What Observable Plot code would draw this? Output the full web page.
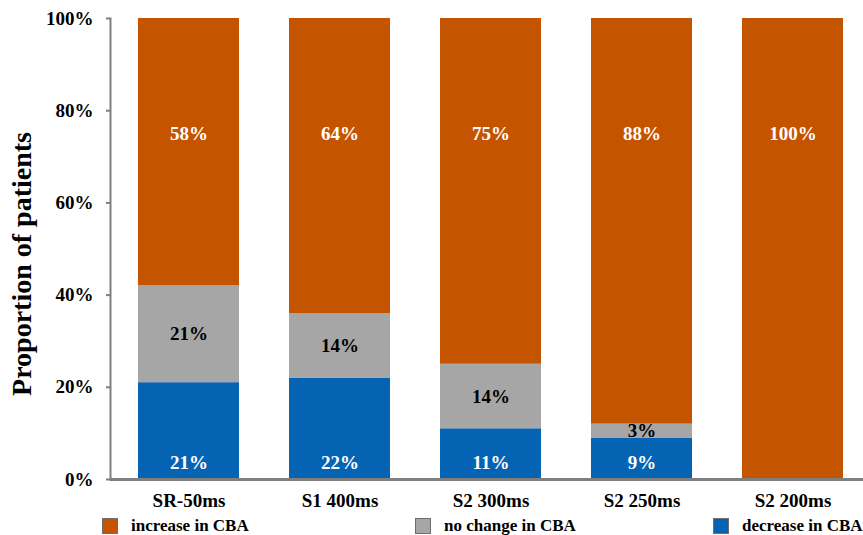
<!DOCTYPE html>
<html>
<head>
<meta charset="utf-8">
<script src="https://cdn.jsdelivr.net/npm/d3@7"></script>
<script src="https://cdn.jsdelivr.net/npm/@observablehq/plot@0.6"></script>
<style>
  body { margin: 0; background: #fff; font-family: "Liberation Serif", "Times New Roman", serif; }
  #wrap { position: relative; width: 863px; height: 535px; overflow: hidden; }
  #legend { position: absolute; top: 516px; left: 0; width: 863px; height: 20px; font-weight: bold; font-size: 17px; }
  .item { position: absolute; top: 0; display: flex; align-items: center; }
  .swatch { width: 14px; height: 14px; border: 1px solid #6e6e6e; margin-right: 13px; }
</style>
</head>
<body>
<div id="wrap">
  <div id="chart"></div>
  <div id="legend"></div>
</div>
<script>
// Pacing protocols and share of patients per CBA response (%)
const categories = ["SR-50ms", "S1 400ms", "S2 300ms", "S2 250ms", "S2 200ms"];
const decrease = [21, 22, 11, 9, 0];
const noChange = [21, 14, 14, 3, 0];
const increase = [58, 64, 75, 88, 100];
const yTicks = [0, 20, 40, 60, 80, 100];

const seriesNames = ["decrease in CBA", "no change in CBA", "increase in CBA"];
const seriesColors = ["#0563B3", "#A6A6A6", "#C55400"];
const legendOrder = ["increase in CBA", "no change in CBA", "decrease in CBA"];
const legendLeft = [102, 415, 713];

// Long-format rows, stacked bottom to top: decrease, no change, increase
const rows = [];
categories.forEach((c, i) => {
  rows.push({cat: c, series: seriesNames[0], value: decrease[i]});
  rows.push({cat: c, series: seriesNames[1], value: noChange[i]});
  rows.push({cat: c, series: seriesNames[2], value: increase[i]});
});

// Label positions: decrease at the base, no change at its middle, increase high in the bar
const decLabels = categories.map((c, i) => ({cat: c, v: decrease[i]})).filter(d => d.v > 0);
const midLabels = categories.map((c, i) => ({cat: c, v: noChange[i], y: decrease[i] + noChange[i] / 2})).filter(d => d.v > 0);
const incLabels = categories.map((c, i) => ({cat: c, v: increase[i]})).filter(d => d.v > 0);
const incLabelLevel = 75;

const font = "Liberation Serif, Times New Roman, serif";
const axisGray = "#7f7f7f";

const chart = Plot.plot({
  width: 863,
  height: 511,
  marginLeft: 110,
  marginRight: 0,
  marginTop: 18,
  marginBottom: 32,
  style: {fontFamily: font, fontWeight: "bold", background: "white", overflow: "visible"},
  x: {domain: categories, range: [112, 869], paddingInner: 0.333, paddingOuter: 0.167, label: null},
  y: {domain: [0, 100], label: null},
  color: {domain: seriesNames, range: seriesColors},
  marks: [
    Plot.barY(rows, Plot.stackY({x: "cat", y: "value", fill: "series", order: seriesNames})),
    Plot.frame({anchor: "left", stroke: axisGray, strokeWidth: 2}),
    Plot.ruleY([0], {stroke: axisGray, strokeWidth: 3}),
    Plot.axisY({ticks: yTicks, tickFormat: d => d + "%", tickSize: 4, tickPadding: 13, fontSize: 19, fontWeight: "bold", stroke: axisGray, strokeWidth: 2, color: "black", label: null}),
    Plot.axisX({tickSize: 0, tickPadding: 14, fontSize: 19, fontWeight: "bold", label: null}),
    Plot.text(["Proportion of patients"], {frameAnchor: "left", textAnchor: "middle", dx: -88, dy: 15, rotate: -90, fontSize: 28, fontWeight: "bold", fill: "black"}),
    Plot.text(incLabels, {x: "cat", y: () => incLabelLevel, text: d => d.v + "%", fill: "white", fontSize: 19, fontWeight: "bold"}),
    Plot.text(midLabels, {x: "cat", y: "y", text: d => d.v + "%", fill: "black", fontSize: 19, fontWeight: "bold"}),
    Plot.text(decLabels, {x: "cat", y: () => 0, dy: -17, text: d => d.v + "%", fill: "white", fontSize: 19, fontWeight: "bold"})
  ]
});
document.getElementById("chart").appendChild(chart);

// Legend below the chart
const legend = document.getElementById("legend");
legendOrder.forEach((name, i) => {
  const item = document.createElement("div");
  item.className = "item";
  item.style.left = legendLeft[i] + "px";
  const sw = document.createElement("div");
  sw.className = "swatch";
  sw.style.background = seriesColors[seriesNames.indexOf(name)];
  const label = document.createElement("span");
  label.textContent = name;
  item.appendChild(sw);
  item.appendChild(label);
  legend.appendChild(item);
});
</script>
</body>
</html>
